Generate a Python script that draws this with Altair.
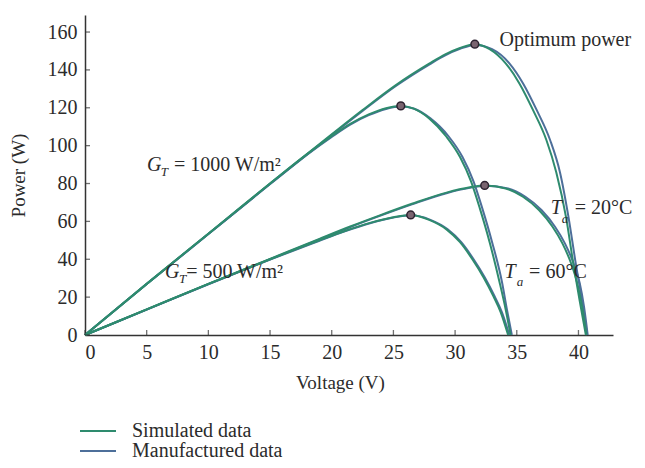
import altair as alt
import pandas as pd

FONT = "Liberation Serif"
TEXT_COLOR = "#2b2b2b"
SIM_COLOR = "#2e8b6e"
MAN_COLOR = "#4d6f9a"

X_TICKS = [0, 5, 10, 15, 20, 25, 30, 35, 40]
Y_TICKS = [0, 20, 40, 60, 80, 100, 120, 140, 160]

# G=1000 W/m2, Ta=20 C
A_SIM_V = [0, 5, 10, 15, 20, 22.5, 25.2, 27.9, 29.2, 30.4, 31.6, 32.8, 34.1, 35.2, 36.3, 37.4, 38.2, 39.0, 39.6, 40.1, 40.6]
A_SIM_P = [0, 27, 53.5, 80, 106, 118.8, 132, 143.3, 148.2, 151.6, 153.6, 151, 143.5, 133, 119, 103, 86, 62, 37, 18, 0]
A_MAN_V = [0, 5, 10, 15, 20, 22.5, 25.2, 27.9, 29.2, 30.4, 31.6, 33.0, 34.4, 35.5, 36.6, 37.7, 38.5, 39.2, 39.8, 40.3, 40.7]
A_MAN_P = [0, 26.9, 53.3, 79.7, 105.6, 118.3, 131.5, 142.8, 147.7, 151.1, 153.2, 151, 143.5, 133, 119, 103, 86, 62, 37, 18, 0]

# G=1000 W/m2, Ta=60 C
B_SIM_V = [0, 5, 10, 15, 18, 20, 21.5, 23, 24.4, 25.6, 26.6, 27.9, 29.3, 30.4, 31.3, 32.0, 32.8, 33.6, 34.1, 34.5]
B_SIM_P = [0, 27, 53.5, 80, 95.5, 105, 111.5, 116.5, 119.8, 121, 119.7, 114.4, 104.7, 94, 81, 67, 49, 28, 13.5, 0]
B_MAN_V = [0, 5, 10, 15, 18, 20, 21.5, 23, 24.4, 25.6, 26.7, 28.0, 29.5, 30.6, 31.5, 32.2, 33.0, 33.8, 34.2, 34.6]
B_MAN_P = [0, 26.9, 53.3, 79.7, 95.2, 104.6, 111.1, 116.1, 119.4, 120.7, 119.5, 114.4, 104.7, 94, 81, 67, 49, 28, 13.5, 0]

# G=500 W/m2, Ta=20 C
C_SIM_V = [0, 5, 10, 15, 19, 21.5, 23.9, 26.5, 29.3, 31.2, 32.4, 34.1, 35.5, 36.8, 37.9, 38.7, 39.4, 39.9, 40.3, 40.65]
C_SIM_P = [0, 13.5, 27, 40.2, 50.8, 57.3, 63.2, 69.3, 75.2, 78.0, 79, 77.4, 73, 66, 57.2, 48.4, 37.9, 27.5, 15, 0]
C_MAN_V = [0, 5, 10, 15, 19, 21.5, 23.9, 26.5, 29.3, 31.2, 32.5, 34.3, 35.7, 37.0, 38.1, 38.9, 39.6, 40.1, 40.45, 40.75]
C_MAN_P = [0, 13.4, 26.8, 40, 50.5, 57.0, 62.9, 69.0, 74.9, 77.7, 78.8, 77.4, 73, 66, 57.2, 48.4, 37.9, 27.5, 15, 0]

# G=500 W/m2, Ta=60 C
D_SIM_V = [0, 5, 10, 15, 19, 21, 23.1, 25, 26.4, 27.9, 29.3, 30.4, 31.4, 32.3, 33.1, 33.7, 34.3]
D_SIM_P = [0, 13.5, 27, 40, 50, 54.8, 59.2, 62.2, 63.4, 60.8, 55.8, 49, 40, 30.5, 20.5, 12, 0]
D_MAN_V = [0, 5, 10, 15, 19, 21, 23.1, 25, 26.4, 28.0, 29.4, 30.5, 31.5, 32.4, 33.2, 33.8, 34.4]
D_MAN_P = [0, 13.4, 26.9, 39.8, 49.8, 54.6, 59.0, 62.0, 63.2, 60.8, 55.8, 49, 40, 30.5, 20.5, 12, 0]

MPP_V = [31.6, 25.6, 32.4, 26.4]
MPP_P = [153.6, 121, 79, 63.4]

# annotations
ANN_TEXT = ["Optimum power", "= 1000 W/m²", "= 500 W/m²", "= 20°C", "= 60°C"]
ANN_V = [33.6, 7.21, 8.2, 39.7, 36.0]
ANN_P = [155.9, 89.9, 33.3, 67.1, 33.3]
ITAL_TEXT = ["G", "G", "T", "T"]
ITAL_V = [5.02, 6.48, 37.75, 34.0]
ITAL_P = [89.9, 33.3, 67.1, 33.3]
SUB_TEXT = ["T", "T", "a", "a"]
SUB_V = [6.15, 7.61, 38.65, 35.0]
SUB_P = [86.0, 29.4, 61.3, 28.0]


def frame(source, curves):
    rows = []
    for name, vs, ps in curves:
        for v, p in zip(vs, ps):
            rows.append({"V": v, "P": p, "curve": name, "source": source})
    return pd.DataFrame(rows)


df_sim = frame("Simulated data", [("A", A_SIM_V, A_SIM_P), ("B", B_SIM_V, B_SIM_P),
                                  ("C", C_SIM_V, C_SIM_P), ("D", D_SIM_V, D_SIM_P)])
df_man = frame("Manufactured data", [("A", A_MAN_V, A_MAN_P), ("B", B_MAN_V, B_MAN_P),
                                     ("C", C_MAN_V, C_MAN_P), ("D", D_MAN_V, D_MAN_P)])
df_mpp = pd.DataFrame({"V": MPP_V, "P": MPP_P})
df_ann = pd.DataFrame({"V": ANN_V, "P": ANN_P, "label": ANN_TEXT})
df_ital = pd.DataFrame({"V": ITAL_V, "P": ITAL_P, "label": ITAL_TEXT})
df_sub = pd.DataFrame({"V": SUB_V, "P": SUB_P, "label": SUB_TEXT})
df_xt = pd.DataFrame({"V": X_TICKS, "P": [0] * len(X_TICKS)})
df_yt = pd.DataFrame({"V": [0] * len(Y_TICKS), "P": Y_TICKS})

x_scale = alt.Scale(domain=[0, 42.8], nice=False, zero=False)
y_scale = alt.Scale(domain=[0, 169], nice=False)

X_AX = alt.Axis(values=X_TICKS, title="Voltage (V)", ticks=False, grid=False,
                labelPadding=7, titlePadding=11, titleX=255)
Y_AX = alt.Axis(values=Y_TICKS, title="Power (W)", ticks=False, grid=False,
                labelPadding=8, titlePadding=19)

X = alt.X("V:Q", scale=x_scale, axis=X_AX)
Y = alt.Y("P:Q", scale=y_scale, axis=Y_AX)

color = alt.Color(
    "source:N",
    scale=alt.Scale(domain=["Simulated data", "Manufactured data"], range=[SIM_COLOR, MAN_COLOR]),
    legend=alt.Legend(title=None, orient="none", legendX=3, legendY=406,
                      symbolType="M-2,0H2", symbolSize=324, symbolStrokeWidth=2,
                      labelFontSize=20, labelFont=FONT, labelColor=TEXT_COLOR,
                      labelOffset=24, rowPadding=0),
)

man = alt.Chart(df_man).mark_line(strokeWidth=2, interpolate="monotone").encode(
    x=X, y=Y, color=color, detail="curve:N")
sim = alt.Chart(df_sim).mark_line(strokeWidth=2, interpolate="monotone").encode(
    x=X, y=Y, color=color, detail="curve:N")

mpp = alt.Chart(df_mpp).mark_point(filled=True, size=60, fill="#7a6470", stroke="#2d2230",
                                   strokeWidth=1.5, opacity=1).encode(x=X, y=Y)

ann = alt.Chart(df_ann).mark_text(align="left", baseline="middle", font=FONT, fontSize=20,
                                  color=TEXT_COLOR).encode(x=X, y=Y, text="label:N")
ital = alt.Chart(df_ital).mark_text(align="left", baseline="middle", font=FONT, fontSize=20,
                                    fontStyle="italic", color=TEXT_COLOR).encode(x=X, y=Y, text="label:N")
sub = alt.Chart(df_sub).mark_text(align="left", baseline="middle", font=FONT, fontSize=13,
                                  fontStyle="italic", color=TEXT_COLOR).encode(x=X, y=Y, text="label:N")

xt = alt.Chart(df_xt).mark_tick(orient="vertical", size=5, thickness=1.3, yOffset=-2.5,
                                color="#333333").encode(x=X, y=Y)
yt = alt.Chart(df_yt).mark_tick(orient="horizontal", size=5, thickness=1.3, xOffset=2.5,
                                color="#333333").encode(x=X, y=Y)

chart = alt.layer(man, sim, mpp, ann, ital, sub, xt, yt).properties(
    width=528, height=320,
    autosize=alt.AutoSizeParams(type="none"),
    padding={"left": 77, "top": 7, "right": 24, "bottom": 125},
).configure(font=FONT).configure_view(stroke=None).configure_axis(
    domainColor="#333333", domainWidth=1.5,
    labelFont=FONT, labelFontSize=20, labelColor=TEXT_COLOR,
    titleFont=FONT, titleFontSize=19, titleFontWeight="normal", titleColor=TEXT_COLOR,
)

chart.save("out.html", embed_options={"renderer": "svg", "actions": False})
